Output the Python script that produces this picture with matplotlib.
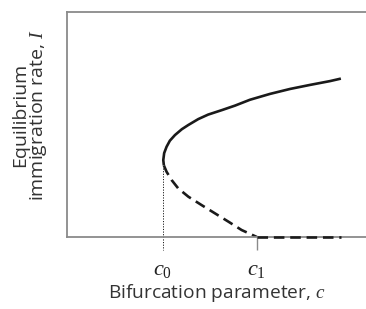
import matplotlib
matplotlib.use("Agg")
import matplotlib.pyplot as plt

plt.rcParams['mathtext.fontset'] = 'custom'
plt.rcParams['mathtext.it'] = 'Liberation Serif:italic'
plt.rcParams['mathtext.rm'] = 'Liberation Serif'
plt.rcParams['font.family'] = ['Open Sans', 'DejaVu Sans']

# Data
upper_c = [3.24, 3.22, 3.25, 3.33, 3.44, 3.61, 3.84, 4.06, 4.39, 4.72, 5.18, 5.62, 6.12, 6.79, 7.46, 8.13, 8.80, 9.16]
upper_I = [3.18, 3.42, 3.73, 4.01, 4.28, 4.53, 4.79, 4.98, 5.24, 5.44, 5.64, 5.84, 6.10, 6.36, 6.58, 6.76, 6.93, 7.04]
lower_c = [3.24, 3.33, 3.50, 3.72, 4.06, 4.50, 4.95, 5.40, 5.84, 6.35]
lower_I = [3.18, 2.90, 2.53, 2.16, 1.79, 1.42, 1.05, 0.68, 0.31, 0.0]
zero_c = [6.35, 9.16]
zero_I = [0.0, 0.0]
c0 = 3.21
c1 = 6.35
tick_labels = ['$c_0$', '$c_1$']

fig = plt.figure(figsize=(3.66, 3.09), dpi=100)
ax = fig.add_axes([67/366, 72/309, 299/366, 225/309])
ax.set_xlim(0, 10)
ax.set_ylim(0, 10)

spine_col = '#8a8a8a'
for s in ['left', 'top', 'bottom']:
    ax.spines[s].set_color(spine_col)
    ax.spines[s].set_linewidth(1.3)
ax.spines['right'].set_visible(False)

ax.plot(upper_c, upper_I, color='#1a1a1a', lw=1.9, solid_capstyle='butt', solid_joinstyle='round')
ax.plot(lower_c, lower_I, color='#1a1a1a', lw=1.9, dashes=(4, 2.2))
ax.plot(zero_c, zero_I, color='#1a1a1a', lw=1.9, dashes=(4, 2.2), clip_on=False, zorder=5)

# dotted line from fold point down to axis and below (tick)
ax.plot([c0, c0], [lower_I[0] - 0.1, -0.58], color='#1a1a1a', lw=0.7, ls=(0, (1.2, 1.5)), clip_on=False)

ax.set_xticks([c0, c1])
ax.set_xticklabels(tick_labels, fontsize=16, color='#222222')
ax.tick_params(axis='x', length=9.5, width=1.0, color=spine_col, pad=6)
ax.xaxis.get_major_ticks()[0].tick1line.set_visible(False)
ax.set_yticks([])

ax.set_xlabel('Bifurcation parameter, $c$', fontsize=13.8, color='#333333', labelpad=2)
fig.text(30/366, 1 - 115/309, 'Equilibrium\nimmigration rate, $I$', rotation=90,
         ha='center', va='center', ma='center', fontsize=14, color='#333333', linespacing=0.95)

fig.savefig('out.png', dpi=100)
